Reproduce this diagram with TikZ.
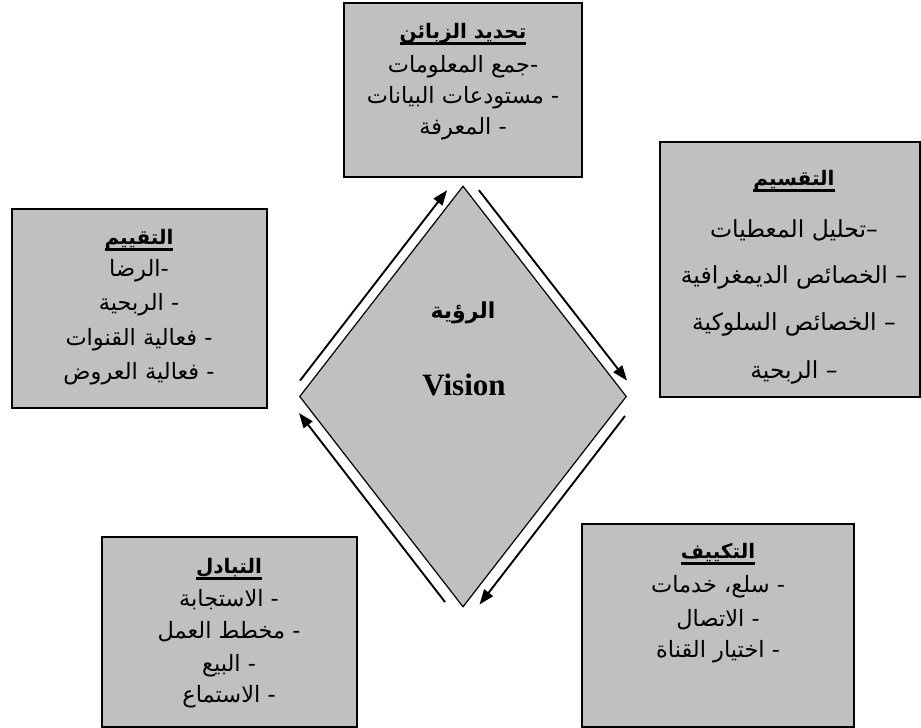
\documentclass[tikz,border=0pt]{standalone}
\usepackage{fontspec}
\usetikzlibrary{shapes.geometric,arrows.meta}
\newfontfamily\arabicfont[Script=Arabic]{DejaVu Sans}
\newfontfamily\serifmain{Liberation Serif}
\TeXXeTstate=1
\definecolor{boxgray}{RGB}{192,192,192}
\newcommand{\rl}[1]{\beginR #1\endR}
\newcommand{\ultitle}[1]{\setbox0\hbox{\bfseries\beginR #1\endR}\dp0=2.8pt\vtop{\box0\kern1pt\hrule height 2.5pt}}
\begin{document}
\begin{tikzpicture}[x=1pt,y=-1pt,
  box/.style={draw=black, line width=1.8pt, fill=boxgray, inner sep=0pt},
  ln/.style={font=\arabicfont\fontsize{22.5}{25}\selectfont, inner sep=0pt},
  lnr/.style={font=\arabicfont\fontsize{23.5}{25}\selectfont, inner sep=0pt},
  ttl/.style={font=\arabicfont\fontsize{20}{23}\selectfont, inner sep=0pt},
  arr/.style={line width=1.9pt, -{Triangle[length=15pt,width=11pt]}}]
\useasboundingbox (0,0) rectangle (921,728);
\fill[white] (0,0) rectangle (921,728);

% boxes
\node[box, minimum width=238pt, minimum height=174pt] (topbox) at (463,90) {};
\node[box, minimum width=260pt, minimum height=255pt] (rightbox) at (790,269.5) {};
\node[box, minimum width=255pt, minimum height=199pt] (leftbox) at (139.5,308.5) {};
\node[box, minimum width=255pt, minimum height=190pt] (blbox) at (229.5,632) {};
\node[box, minimum width=272pt, minimum height=203pt] (brbox) at (718,625.5) {};

% diamond
\node[diamond, draw=black, line width=1.2pt, fill=boxgray, inner sep=0pt,
      minimum width=327pt, minimum height=421pt] (vis) at (463,396.5) {};

% top box
\node[ttl] (t1) at (463,34) {\ultitle{تحديد الزبائن}};
\node[ln] (t1a) at (463,67) {\rl{-جمع المعلومات}};
\node[ln] (t1b) at (463,98) {\rl{- مستودعات البيانات}};
\node[ln] (t1c) at (463,129) {\rl{- المعرفة}};
% right box
\node[ttl] (t2) at (794,181) {\ultitle{التقسيم}};
\node[lnr] (t2a) at (794,230) {\rl{–تحليل المعطيات}};
\node[lnr] (t2b) at (794,277) {\rl{– الخصائص الديمغرافية}};
\node[lnr] (t2c) at (794,324) {\rl{– الخصائص  السلوكية}};
\node[lnr] (t2d) at (794,372) {\rl{– الربحية}};
% left box
\node[ttl] (t3) at (139,240) {\ultitle{التقييم}};
\node[ln] (t3a) at (139,271) {\rl{-الرضا}};
\node[ln] (t3b) at (139,305) {\rl{- الربحية}};
\node[ln] (t3c) at (139,340) {\rl{- فعالية القنوات}};
\node[ln] (t3d) at (139,374) {\rl{- فعالية العروض}};
% bottom-left box
\node[ttl] (t4) at (229,569) {\ultitle{التبادل}};
\node[ln] (t4a) at (229,600) {\rl{- الاستجابة}};
\node[ln] (t4b) at (229,632) {\rl{- مخطط العمل}};
\node[ln] (t4c) at (229,666) {\rl{- البيع}};
\node[ln] (t4d) at (229,697) {\rl{- الاستماع}};
% bottom-right box
\node[ttl] (t5) at (718,554) {\ultitle{التكييف}};
\node[ln] (t5a) at (718,587) {\rl{- سلع، خدمات}};
\node[ln] (t5b) at (718,620) {\rl{- الاتصال}};
\node[ln] (t5c) at (718,652) {\rl{- اختيار القناة}};

% center text
\node[font=\arabicfont\bfseries\fontsize{22}{24}\selectfont, inner sep=0pt] (vis-ar) at (463,313) {\rl{الرؤية}};
\node[font=\serifmain\bfseries\fontsize{31}{33}\selectfont, inner sep=0pt] (vis-en) at (464,385) {Vision};

% arrows around the diamond
\coordinate (a1s) at (300,380.6);
\coordinate (a1e) at (447.1,190.2);
\coordinate (a2s) at (478.9,190.2);
\coordinate (a2e) at (627,380.6);
\coordinate (a3s) at (625,416);
\coordinate (a3e) at (479.5,604.5);
\coordinate (a4s) at (445,602);
\coordinate (a4e) at (299,413);
\draw[arr] (a1s) -- (a1e);
\draw[arr] (a2s) -- (a2e);
\draw[arr] (a3s) -- (a3e);
\draw[arr] (a4s) -- (a4e);
\end{tikzpicture}
\end{document}
